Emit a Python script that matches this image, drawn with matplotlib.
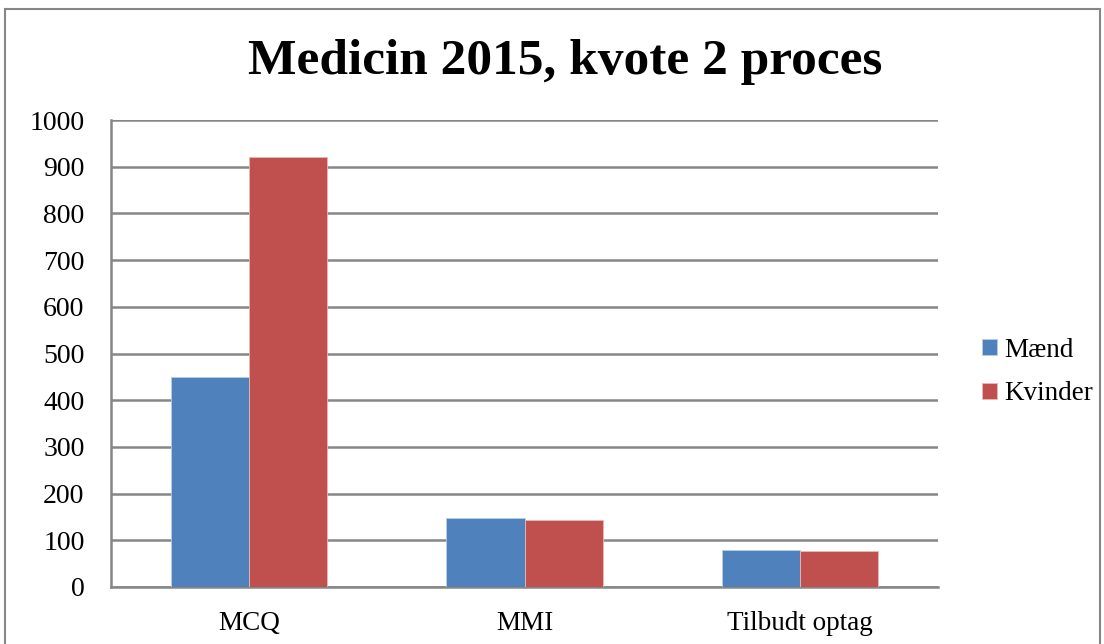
import matplotlib
matplotlib.use("Agg")
import matplotlib.pyplot as plt
import numpy as np
from matplotlib.patches import Rectangle

categories = ["MCQ", "MMI", "Tilbudt optag"]
maend = [450, 148, 79]
kvinder = [920, 144, 77]
series_names = ["Mænd", "Kvinder"]
colors = ["#4F81BD", "#C0504D"]
yticks = [0, 100, 200, 300, 400, 500, 600, 700, 800, 900, 1000]

plt.rcParams['font.family'] = ['Liberation Serif', 'DejaVu Serif']

fig = plt.figure(figsize=(11.04, 6.44), dpi=100)
W, H = 1104, 644
ax = fig.add_axes([111 / W, 1 - 587 / H, (938 - 111) / W, (587 - 120) / H])

x = np.arange(len(categories))
bw = 0.283
ax.bar(x - bw / 2, maend, bw, color=colors[0], edgecolor="#B9CDE5", linewidth=0.6, label=series_names[0], zorder=3)
ax.bar(x + bw / 2, kvinder, bw, color=colors[1], edgecolor="#E6B9B8", linewidth=0.6, label=series_names[1], zorder=3)

ax.set_xlim(-0.5, len(categories) - 0.5)
ax.set_ylim(0, 1000)
ax.set_yticks(yticks)
ax.set_yticklabels([str(v) for v in yticks], fontsize=20)
ax.set_xticks(x)
ax.set_xticklabels(categories, fontsize=19.5)
ax.tick_params(axis="both", length=0)
ax.tick_params(axis="y", pad=19)
ax.tick_params(axis="x", pad=17)
ax.grid(axis="y", color="#868686", linewidth=1.8, zorder=0)
for s in ["top", "right"]:
    ax.spines[s].set_visible(False)
for s in ["left", "bottom"]:
    ax.spines[s].set_color("#868686")
    ax.spines[s].set_linewidth(1.8)

fig.text(565 / W, 1 - 62 / H, "Medicin 2015, kvote 2 proces", ha="center", va="center",
         fontsize=37, fontweight="bold")

fig.legend(loc="center left", bbox_to_anchor=(958 / W, 1 - 372 / H), frameon=False,
           fontsize=19.5, handlelength=0.55, handleheight=0.55, handletextpad=0.25,
           labelspacing=0.7)

fig.patches.append(Rectangle((5 / W, -0.02), (1100 - 5) / W, 1 - 9 / H + 0.02,
                             transform=fig.transFigure, fill=False,
                             edgecolor="#868686", linewidth=1.5))

fig.savefig("out.png", dpi=100)
